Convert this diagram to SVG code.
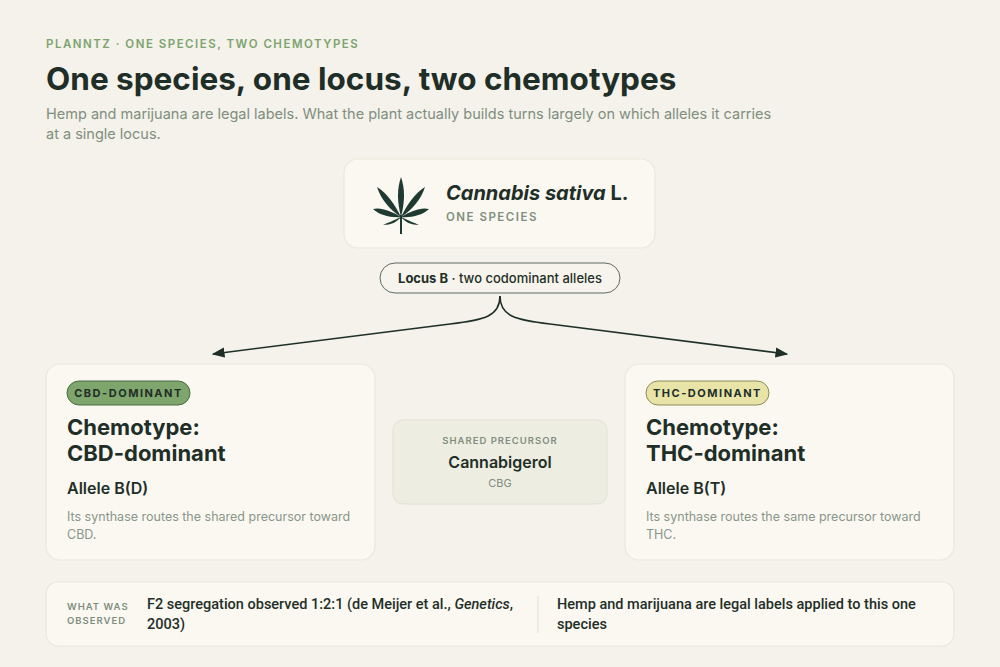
<svg xmlns="http://www.w3.org/2000/svg" width="1000" height="667" viewBox="0 0 1000 667">
<defs>
<marker id="ah" viewBox="0 0 10 10" refX="9" refY="5" markerWidth="8" markerHeight="8" orient="auto"><path d="M0,1 L10,5 L0,9 z" fill="#1f2f28"/></marker>
<style>
text{font-family:Inter,"Noto Sans",sans-serif;fill:#1f2f28}
.card{fill:#faf8f1;stroke:#ebe7da;stroke-width:1.2}
.mut{fill:#7f8e80}
.cap{font-size:11px;font-weight:600;letter-spacing:1.5px}
.h{font-size:22px;font-weight:700}
.al{font-size:16px;font-weight:600}
.body{font-size:12.5px;fill:#8a968a}
.ft{font-family:Roboto,"Liberation Sans Narrow",sans-serif;font-size:14.5px;font-weight:500}
</style>
</defs>
<rect width="1000" height="667" fill="#f4f2ea"/>
<text x="46" y="48" class="cap" style="fill:#7da36f;font-size:11.5px">PLANNTZ · ONE SPECIES, TWO CHEMOTYPES</text>
<text x="46" y="90" style="font-size:31.5px;font-weight:700">One species, one locus, two chemotypes</text>
<text x="46" y="119" style="font-size:14.5px;fill:#7f8e80">Hemp and marijuana are legal labels. What the plant actually builds turns largely on which alleles it carries</text>
<text x="46" y="139" style="font-size:14.5px;fill:#7f8e80">at a single locus.</text>

<g id="connectors" fill="none" stroke="#1f2f28" stroke-width="1.6">
<path d="M500,296 C500,316 485,320 450,324 L213,354" marker-end="url(#ah)"/>
<path d="M500,296 C500,316 515,320 550,324 L787,354" marker-end="url(#ah)"/>
</g>

<g id="species">
<rect x="344" y="159" width="311" height="89" rx="14" class="card"/>
<g fill="#1f3a30" transform="translate(401,205)">
<path d="M0,-28 C4,-16 4,-4 0,12 C-4,-4 -4,-16 0,-28z"/>
<path d="M0,12 C-6,0 -14,-12 -24,-18 C-20,-6 -12,4 0,12z"/>
<path d="M0,12 C6,0 14,-12 24,-18 C20,-6 12,4 0,12z"/>
<path d="M0,12 C-10,6 -20,2 -28,4 C-22,10 -10,13 0,12z"/>
<path d="M0,12 C10,6 20,2 28,4 C22,10 10,13 0,12z"/>
<path d="M0,12 C-6,15 -14,18 -18,20 C-10,20 -4,17 0,12z"/>
<path d="M0,12 C6,15 14,18 18,20 C10,20 4,17 0,12z"/>
<rect x="-1" y="10" width="2" height="19"/>
</g>
<text x="446" y="200" style="font-size:20px;font-weight:700"><tspan font-style="italic">Cannabis sativa</tspan> L.</text>
<text x="446" y="221" class="cap mut" style="font-size:11.5px">ONE SPECIES</text>
</g>

<g id="locus">
<rect x="380" y="263" width="240" height="30" rx="15" fill="#f6f4ec" stroke="#5d6b60" stroke-width="1"/>
<text x="500" y="283" text-anchor="middle" style="font-size:13px;font-weight:500"><tspan font-weight="700">Locus B</tspan> · two codominant alleles</text>
</g>

<g id="cbd">
<rect x="46" y="364" width="329" height="196" rx="14" class="card"/>
<rect x="67" y="381" width="123" height="24" rx="12" fill="#7ea56b" stroke="#4a6a45" stroke-width="1"/>
<text x="128.5" y="397" text-anchor="middle" class="cap" style="font-size:11px;font-weight:700">CBD-DOMINANT</text>
<text x="67" y="435" class="h">Chemotype:</text>
<text x="67" y="461" class="h">CBD-dominant</text>
<text x="67" y="494" class="al">Allele B(D)</text>
<text x="67" y="521" class="body">Its synthase routes the shared precursor toward</text>
<text x="67" y="539" class="body">CBD.</text>
</g>

<g id="precursor">
<rect x="393" y="420" width="214" height="84" rx="10" fill="#eeede2" stroke="#e2e1d4"/>
<text x="500" y="444" text-anchor="middle" class="cap mut" style="font-size:9.5px;letter-spacing:1px">SHARED PRECURSOR</text>
<text x="500" y="468" text-anchor="middle" style="font-size:16px;font-weight:600">Cannabigerol</text>
<text x="500" y="487" text-anchor="middle" class="mut" style="font-size:11px">CBG</text>
</g>

<g id="thc">
<rect x="625" y="364" width="329" height="196" rx="14" class="card"/>
<rect x="646" y="381" width="123" height="24" rx="12" fill="#e8e4a8" stroke="#8d8a5a" stroke-width="1"/>
<text x="707.5" y="397" text-anchor="middle" class="cap" style="font-size:11px;font-weight:700">THC-DOMINANT</text>
<text x="646" y="435" class="h">Chemotype:</text>
<text x="646" y="461" class="h">THC-dominant</text>
<text x="646" y="494" class="al">Allele B(T)</text>
<text x="646" y="521" class="body">Its synthase routes the same precursor toward</text>
<text x="646" y="539" class="body">THC.</text>
</g>

<g id="observed">
<rect x="46" y="582" width="908" height="64" rx="12" class="card"/>
<text x="67" y="610" class="cap mut" style="font-size:9.5px;letter-spacing:1px">WHAT WAS</text>
<text x="67" y="624" class="cap mut" style="font-size:9.5px;letter-spacing:1px">OBSERVED</text>
<text x="147" y="609" class="ft">F2 segregation observed 1:2:1 (de Meijer et al., <tspan font-style="italic">Genetics</tspan>,</text>
<text x="147" y="629" class="ft">2003)</text>
<line x1="538" y1="596" x2="538" y2="633" stroke="#e2ded0"/>
<text x="557" y="609" class="ft">Hemp and marijuana are legal labels applied to this one</text>
<text x="557" y="629" class="ft">species</text>
</g>
</svg>
